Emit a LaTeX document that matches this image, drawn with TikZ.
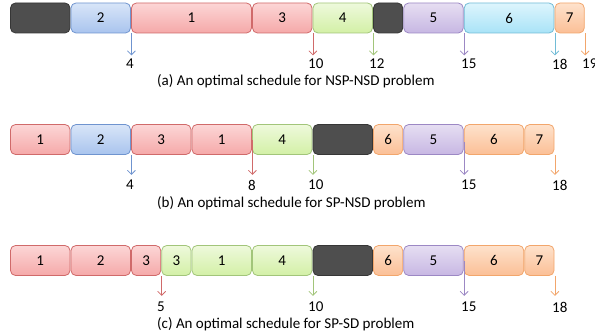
\documentclass[tikz,border=0pt]{standalone}
\usepackage{fontspec}
\setmainfont{Carlito}
\usetikzlibrary{arrows.meta,calc}
\definecolor{bluT}{HTML}{D8E5F8}\definecolor{bluB}{HTML}{A9C4EE}\definecolor{bluD}{HTML}{6F94CF}
\definecolor{redT}{HTML}{FCD6D6}\definecolor{redB}{HTML}{F5A9A9}\definecolor{redD}{HTML}{D06A6A}
\definecolor{grnT}{HTML}{EEF9DC}\definecolor{grnB}{HTML}{D3F0A6}\definecolor{grnD}{HTML}{A2C57A}
\definecolor{purT}{HTML}{E6DEF2}\definecolor{purB}{HTML}{C7B7E3}\definecolor{purD}{HTML}{9C88C4}
\definecolor{cyaT}{HTML}{DDF5FD}\definecolor{cyaB}{HTML}{A9E3F7}\definecolor{cyaD}{HTML}{72BCD6}
\definecolor{orgT}{HTML}{FEE2CC}\definecolor{orgB}{HTML}{FBBF96}\definecolor{orgD}{HTML}{F2A66C}
\definecolor{drkF}{HTML}{4E4E4E}\definecolor{drkD}{HTML}{363636}
\newcommand\jobbox[6]{%
  \pgfmathsetmacro\jbxa{10+30.25*#3}%
  \pgfmathsetmacro\jbxb{10+30.25*#4}%
  \pgfmathsetmacro\jbw{\jbxb-\jbxa-1}%
  \pgfmathsetmacro\jbxc{(\jbxa+\jbxb)/2}%
  \node[jobbox,#5,minimum width=\jbw pt] (#1) at (\jbxc,#2) {#6};}
\tikzset{
  jobbox/.style={draw,rounded corners=5pt,minimum height=30pt,inner sep=0pt,line width=0.8pt,font=\fontsize{15}{17}\selectfont},
  jblue/.style={draw=bluD,top color=bluT,bottom color=bluB},
  jred/.style={draw=redD,top color=redT,bottom color=redB},
  jgrn/.style={draw=grnD,top color=grnT,bottom color=grnB},
  jpur/.style={draw=purD,top color=purT,bottom color=purB},
  jcya/.style={draw=cyaD,top color=cyaT,bottom color=cyaB},
  jorg/.style={draw=orgD,top color=orgT,bottom color=orgB},
  jdrk/.style={draw=drkD,fill=drkF},
  tick/.style={line width=0.8pt,-{Straight Barb[length=4pt,width=8pt]}},
  num/.style={anchor=west,inner sep=0pt,font=\fontsize{15}{17}\selectfont},
  captxt/.style={anchor=west,inner sep=0pt,font=\fontsize{15}{17}\selectfont}
}
\begin{document}
\begin{tikzpicture}[x=1pt,y=-1pt]
\useasboundingbox (0,0) rectangle (595,334);
% row a
\jobbox{a0}{18}{0}{2}{jdrk}{}
\jobbox{a1}{18}{2}{4}{jblue}{2}
\jobbox{a2}{18}{4}{8}{jred}{1}
\jobbox{a3}{18}{8}{10}{jred}{3}
\jobbox{a4}{18}{10}{12}{jgrn}{4}
\jobbox{a5}{18}{12}{13}{jdrk}{}
\jobbox{a6}{18}{13}{15}{jpur}{5}
\jobbox{a7}{18}{15}{18}{jcya}{6}
\jobbox{a8}{18}{18}{19}{jorg}{7}
\draw[tick,bluD] ([xshift=0.5pt]a1.south east) -- ++(0,22);
\draw[tick,redD] ([xshift=0.5pt]a3.south east) -- ++(0,22);
\draw[tick,grnD] ([xshift=0.5pt]a4.south east) -- ++(0,22);
\draw[tick,purD] ([xshift=0.5pt]a6.south east) -- ++(0,22);
\draw[tick,cyaD] ([xshift=0.5pt]a7.south east) -- ++(0,22);
\draw[tick,orgD] ([xshift=0.5pt]a8.south east) -- ++(0,22);
\node[num] (na1) at (126,64) {4};
\node[num] (na2) at (308,64) {10};
\node[num] (na3) at (369,64) {12};
\node[num] (na4) at (461,64) {15};
\node[num] (na5) at (552,64) {18};
\node[num] (na6) at (582,64) {19};
\node[captxt] (capa) at (157,81) {(a) An optimal schedule for NSP-NSD problem};
% row b
\jobbox{b0}{139.5}{0}{2}{jred}{1}
\jobbox{b1}{139.5}{2}{4}{jblue}{2}
\jobbox{b2}{139.5}{4}{6}{jred}{3}
\jobbox{b3}{139.5}{6}{8}{jred}{1}
\jobbox{b4}{139.5}{8}{10}{jgrn}{4}
\jobbox{b5}{139.5}{10}{12}{jdrk}{}
\jobbox{b6}{139.5}{12}{13}{jorg}{6}
\jobbox{b7}{139.5}{13}{15}{jpur}{5}
\jobbox{b8}{139.5}{15}{17}{jorg}{6}
\jobbox{b9}{139.5}{17}{18}{jorg}{7}
\draw[tick,bluD] ([xshift=0.5pt]b1.south east) -- ++(0,20);
\draw[tick,redD] ([xshift=0.5pt,yshift=15pt]b3.south east) -- ++(0,35);
\draw[tick,grnD] ([xshift=0.5pt]b4.south east) -- ++(0,20);
\draw[tick,purD] ([xshift=0.5pt,yshift=13pt]b7.south east) -- ++(0,33);
\draw[tick,orgD] ([xshift=0.5pt]b9.south east) -- ++(0,20);
\node[num] (nb1) at (126,185) {4};
\node[num] (nb2) at (248,185) {8};
\node[num] (nb3) at (308,185) {10};
\node[num] (nb4) at (461,185) {15};
\node[num] (nb5) at (552,185) {18};
\node[captxt] (capb) at (157,203) {(b) An optimal schedule for SP-NSD problem};
% row c
\jobbox{c0}{260.5}{0}{2}{jred}{1}
\jobbox{c1}{260.5}{2}{4}{jred}{2}
\jobbox{c2}{260.5}{4}{5}{jred}{3}
\jobbox{c3}{260.5}{5}{6}{jgrn}{3}
\jobbox{c4}{260.5}{6}{8}{jgrn}{1}
\jobbox{c5}{260.5}{8}{10}{jgrn}{4}
\jobbox{c6}{260.5}{10}{12}{jdrk}{}
\jobbox{c7}{260.5}{12}{13}{jorg}{6}
\jobbox{c8}{260.5}{13}{15}{jpur}{5}
\jobbox{c9}{260.5}{15}{17}{jorg}{6}
\jobbox{c10}{260.5}{17}{18}{jorg}{7}
\draw[tick,redD] ([xshift=0.5pt]c2.south east) -- ++(0,20);
\draw[tick,grnD] ([xshift=0.5pt]c5.south east) -- ++(0,20);
\draw[tick,purD] ([xshift=0.5pt,yshift=15pt]c8.south east) -- ++(0,35);
\draw[tick,orgD] ([xshift=0.5pt]c10.south east) -- ++(0,20);
\node[num] (nc1) at (157,307) {5};
\node[num] (nc2) at (308,307) {10};
\node[num] (nc3) at (461,307) {15};
\node[num] (nc4) at (552,307) {18};
\node[captxt] (capc) at (157,324) {(c) An optimal schedule for SP-SD problem};
\end{tikzpicture}
\end{document}
